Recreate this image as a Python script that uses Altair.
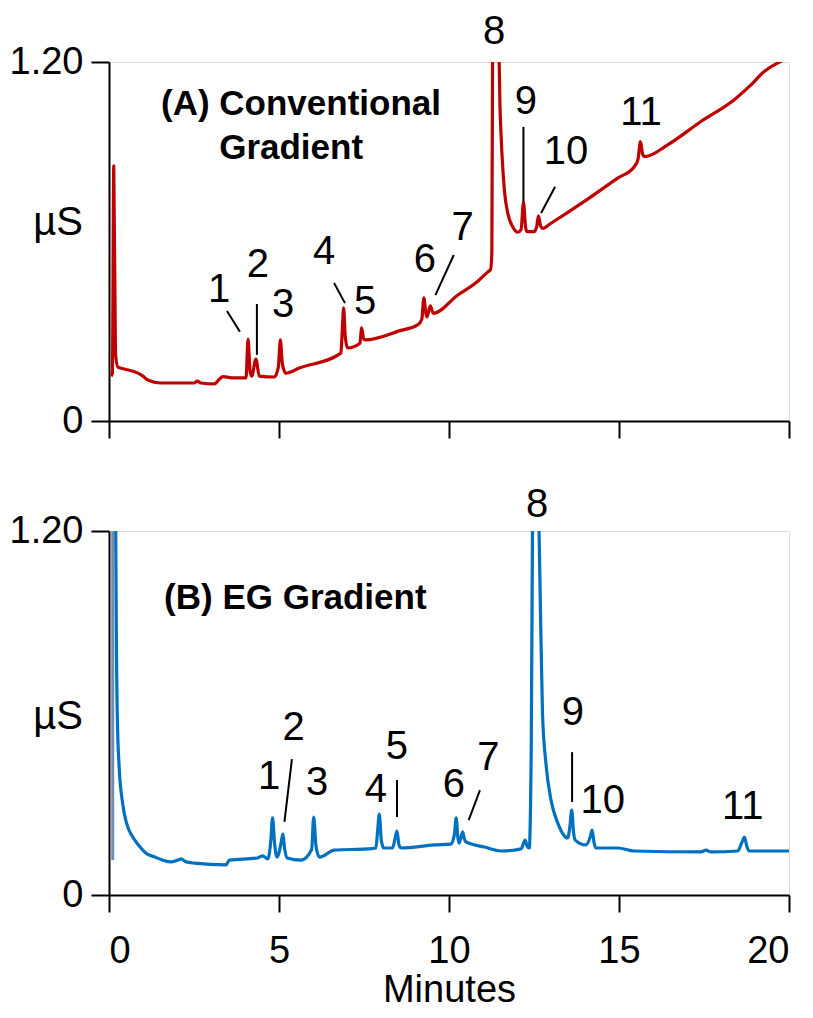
import altair as alt
import pandas as pd

FONT = "Liberation Sans, Arial, Helvetica, sans-serif"
RED = "#C00000"
BLUE = "#0070C0"
GRAY = "#6F8DB0"

# ---------------- Panel A: conventional gradient trace ----------------
a_time = [0.06, 0.10, 0.14, 0.19, 0.26, 0.45, 0.85, 1.00, 1.14, 1.53, 2.50, 2.60, 2.70,
          3.10, 3.25, 3.35, 3.68, 4.03, 4.09, 4.15, 4.20, 4.32, 4.42, 4.86, 4.98, 5.04,
          5.10, 5.20, 5.60, 6.82, 6.86, 6.90, 6.95, 7.02, 7.38, 7.43, 7.49, 7.53, 8.59,
          9.08, 9.20, 9.26, 9.32, 9.35, 9.45, 9.54, 10.26, 10.84, 11.16, 11.22, 11.26,
          11.29, 11.37, 11.46, 11.50, 11.53, 11.63, 11.73, 11.87, 12.02, 12.12, 12.19,
          12.25, 12.29, 12.50, 12.58, 12.63, 12.70, 12.76, 13.00, 13.98, 14.96, 15.45,
          15.56, 15.63, 15.70, 15.77, 16.43, 17.41, 18.39, 18.85, 19.27, 19.81]
a_signal = [0.150, 0.160, 0.853, 0.230, 0.180, 0.174, 0.160, 0.150, 0.137, 0.127, 0.127, 0.133, 0.127,
            0.124, 0.140, 0.148, 0.144, 0.144, 0.274, 0.165, 0.150, 0.207, 0.150, 0.147, 0.180, 0.271,
            0.190, 0.160, 0.177, 0.227, 0.300, 0.378, 0.280, 0.244, 0.260, 0.311, 0.275, 0.271, 0.303,
            0.321, 0.340, 0.412, 0.360, 0.348, 0.385, 0.360, 0.421, 0.466, 0.500, 0.505, 0.560,
            1.500, 2.100, 1.300, 1.050, 0.960, 0.770, 0.694, 0.650, 0.631, 0.640, 0.731,
            0.650, 0.633, 0.633, 0.650, 0.686, 0.650, 0.644, 0.661, 0.734, 0.812, 0.850,
            0.875, 0.934, 0.890, 0.884, 0.923, 1.001, 1.074, 1.120, 1.168, 1.205]

# ---------------- Panel B: EG gradient trace ----------------
b_time = [0.17, 0.20, 0.22, 0.25, 0.30, 0.40, 0.52, 0.70, 0.90, 1.09, 1.35, 1.58, 1.82, 2.02,
          2.12, 2.25, 2.51, 3.44, 3.54, 4.37, 4.52, 4.67, 4.76, 4.81, 4.87, 4.94, 5.06, 5.11,
          5.17, 5.24, 5.65, 5.96, 6.02, 6.09, 6.19, 6.63, 7.61, 7.85, 7.90, 7.95, 8.01, 8.08,
          8.34, 8.42, 8.47, 8.53, 8.59, 9.57, 10.06, 10.16, 10.21, 10.26, 10.30, 10.40, 10.45,
          10.50, 11.04, 11.53, 12.12, 12.24, 12.30, 12.36, 12.42, 12.46, 12.55, 12.64, 12.71,
          12.75, 12.85, 13.00, 13.20, 13.49, 13.56, 13.61, 13.66, 13.71, 14.03, 14.15, 14.21,
          14.27, 14.32, 14.96, 15.45, 17.41, 17.56, 17.70, 18.49, 18.62, 18.69, 18.76, 18.83,
          20.00]
b_signal = [1.700, 1.150, 0.800, 0.560, 0.420, 0.303, 0.235, 0.191, 0.160, 0.138, 0.125, 0.115, 0.109, 0.115,
            0.119, 0.110, 0.105, 0.099, 0.115, 0.122, 0.129, 0.119, 0.180, 0.254, 0.170, 0.125, 0.170, 0.201,
            0.150, 0.122, 0.115, 0.150, 0.257, 0.160, 0.125, 0.148, 0.152, 0.155, 0.210, 0.267, 0.180, 0.155,
            0.155, 0.190, 0.211, 0.165, 0.155, 0.165, 0.168, 0.200, 0.254, 0.190, 0.171, 0.208, 0.185,
            0.175, 0.158, 0.145, 0.152, 0.181, 0.160, 0.155, 0.500, 1.300, 1.900, 1.250, 0.818,
            0.600, 0.435, 0.313, 0.237, 0.188, 0.230, 0.280, 0.210, 0.181, 0.165, 0.190, 0.214,
            0.170, 0.155, 0.155, 0.145, 0.142, 0.148, 0.142, 0.145, 0.175, 0.191, 0.160, 0.145,
            0.145]

# injection stroke at the start of trace B
inj_time = [0.11, 0.11]
inj_signal = [0.115, 1.700]

# ---------------- peak labels ----------------
a_peak_names = ["1", "2", "3", "4", "5", "6", "7", "8", "9", "10", "11"]
a_peak_time = [3.24, 4.38, 5.12, 6.33, 7.53, 9.29, 10.40, 11.33, 12.26, 13.44, 15.65]
a_peak_y = [0.438, 0.522, 0.388, 0.565, 0.398, 0.538, 0.645, 1.300, 1.067, 0.900, 1.030]

a_lead_t1 = [3.47, 4.35, 6.62, 10.14, 12.19, 13.12]
a_lead_v1 = [0.368, 0.391, 0.461, 0.555, 0.983, 0.783]
a_lead_t2 = [3.85, 4.35, 6.94, 9.60, 12.19, 12.71]
a_lead_v2 = [0.298, 0.221, 0.394, 0.421, 0.733, 0.695]

b_peak_names = ["1", "2", "3", "4", "5", "6", "7", "8", "9", "10", "11"]
b_peak_time = [4.71, 5.43, 6.12, 7.85, 8.47, 10.14, 11.16, 12.59, 13.64, 14.52, 18.64]
b_peak_y = [0.389, 0.551, 0.369, 0.346, 0.488, 0.363, 0.452, 1.286, 0.600, 0.310, 0.290]

b_lead_t1 = [5.38, 8.47, 10.91, 13.62]
b_lead_v1 = [0.448, 0.379, 0.346, 0.471]
b_lead_t2 = [5.16, 8.47, 10.58, 13.62]
b_lead_v2 = [0.241, 0.257, 0.247, 0.307]

# ---------------- panel titles ----------------
a_title_text = ["(A) Conventional", "Gradient"]
a_title_time = [1.53, 3.24]
a_title_y = [1.060, 0.913]
b_title_text = ["(B) EG Gradient"]
b_title_time = [1.62]
b_title_y = [0.979]

unit_label = "µS"
a_unit_pos = (-1.50, 0.662)
b_unit_pos = (-1.50, 0.587)

x_ticks = [0, 5, 10, 15, 20]
y_ticks = [0, 1.2]


def panel(t, s, color, names, pt, py, lt1, lv1, lt2, lv2, ttext, tt, ty, upos,
          height, show_x_labels, extra=None):
    x_axis = alt.Axis(values=x_ticks, labels=show_x_labels, grid=False,
                      tickSize=17, tickWidth=2, domainWidth=2, domainColor="black",
                      tickColor="black", labelFont=FONT, labelFontSize=38,
                      labelColor="black", labelPadding=20,
                      title="Minutes" if show_x_labels else None,
                      titleFont=FONT, titleFontSize=38, titleFontWeight="normal",
                      titleColor="black", titlePadding=1)
    y_axis = alt.Axis(values=y_ticks, grid=False, tickSize=18, tickWidth=2,
                      domainWidth=2, domainColor="black", tickColor="black",
                      labelFont=FONT, labelFontSize=38, labelColor="black",
                      labelPadding=8,
                      labelExpr="datum.value == 0 ? '0' : format(datum.value, '.2f')",
                      title=None)
    xs = alt.Scale(domain=[0, 20], nice=False, zero=False)
    ys = alt.Scale(domain=[0, 1.2], nice=False, zero=False)
    X = alt.X("t:Q", scale=xs, axis=x_axis)
    Y = alt.Y("v:Q", scale=ys, axis=y_axis)

    layers = []
    line_df = pd.DataFrame({"t": t, "v": s})
    layers.append(alt.Chart(line_df).mark_line(color=color, strokeWidth=3.2, clip=True,
                                               interpolate="monotone",
                                               strokeJoin="round").encode(x=X, y=Y))
    if extra is not None:
        et, ev, ec = extra
        layers.append(alt.Chart(pd.DataFrame({"t": et, "v": ev})).mark_line(
            color=ec, strokeWidth=3, clip=True).encode(x=X, y=Y))
    lead_df = pd.DataFrame({"t": lt1, "v": lv1, "t2": lt2, "v2": lv2})
    layers.append(alt.Chart(lead_df).mark_rule(color="black", strokeWidth=2).encode(
        x=X, y=Y, x2="t2:Q", y2="v2:Q"))
    lab_df = pd.DataFrame({"t": pt, "v": py, "name": names})
    layers.append(alt.Chart(lab_df).mark_text(font=FONT, fontSize=40, color="black",
                                              align="center", baseline="middle").encode(
        x=X, y=Y, text="name:N"))
    tit_df = pd.DataFrame({"t": tt, "v": ty, "name": ttext})
    layers.append(alt.Chart(tit_df).mark_text(font=FONT, fontSize=35, fontWeight="bold",
                                              color="black", align="left",
                                              baseline="middle").encode(
        x=X, y=Y, text="name:N"))
    unit_df = pd.DataFrame({"t": [upos[0]], "v": [upos[1]], "name": [unit_label]})
    layers.append(alt.Chart(unit_df).mark_text(font=FONT, fontSize=40, color="black",
                                               align="center", baseline="middle").encode(
        x=X, y=Y, text="name:N"))
    return alt.layer(*layers).properties(width=680, height=height)


panel_a = panel(a_time, a_signal, RED, a_peak_names, a_peak_time, a_peak_y,
                a_lead_t1, a_lead_v1, a_lead_t2, a_lead_v2,
                a_title_text, a_title_time, a_title_y, a_unit_pos, 359, False)
panel_b = panel(b_time, b_signal, BLUE, b_peak_names, b_peak_time, b_peak_y,
                b_lead_t1, b_lead_v1, b_lead_t2, b_lead_v2,
                b_title_text, b_title_time, b_title_y, b_unit_pos, 364, True,
                extra=(inj_time, inj_signal, GRAY))

chart = alt.vconcat(panel_a, panel_b, spacing=110, bounds="flush").properties(
    padding={"left": 0, "top": 3, "right": 0, "bottom": -1}
).configure_view(stroke=None).configure(background="white")

chart.save("out.html", embed_options={"renderer": "svg", "actions": False})
